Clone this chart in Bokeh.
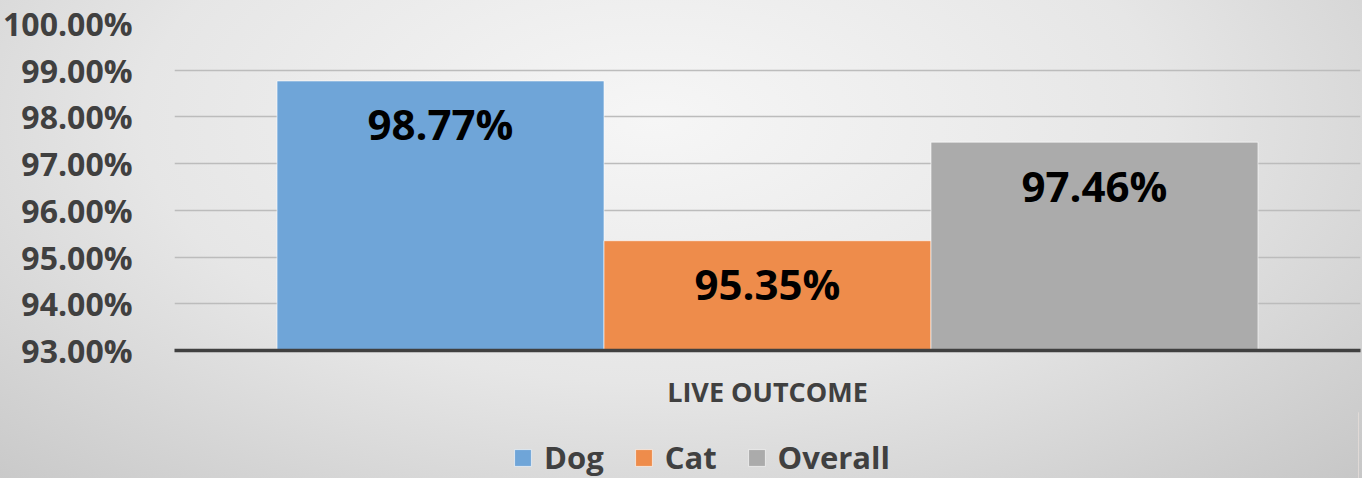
from bokeh.plotting import figure
from bokeh.layouts import column
from bokeh.models import (ColumnDataSource, FactorRange, Range1d, FixedTicker,
                          PrintfTickFormatter, Legend, LegendItem)
from bokeh.transform import dodge
from bokeh.embed import file_html
from bokeh.resources import INLINE
from bokeh.core.properties import value

# ---- data ----
group = ["LIVE OUTCOME"]
categories = ["Dog", "Cat", "Overall"]
values = [98.77, 95.35, 97.46]
bar_labels = ["98.77%", "95.35%", "97.46%"]
colors = ["#6fa5d8", "#ee8c4b", "#ababab"]
y_ticks = [93, 94, 95, 96, 97, 98, 99, 100]

FONT = "Open Sans"
TXT = "#404040"

p = figure(x_range=FactorRange(*group), y_range=Range1d(93, 100),
           frame_width=1186, frame_height=327,
           min_border_left=172, min_border_right=2, min_border_top=23,
           min_border_bottom=55,
           output_backend="svg", toolbar_location=None)
p.border_fill_color = None
p.background_fill_color = None
p.outline_line_color = None

bw = 0.2757
offsets = [-bw, 0.0, bw]
for cat, val, lab, col, off in zip(categories, values, bar_labels, colors, offsets):
    src = ColumnDataSource(dict(x=group, top=[val], label=[lab]))
    p.vbar(x=dodge("x", off, range=p.x_range), top="top", bottom=93, width=bw,
           source=src, fill_color=col, line_color="white", line_alpha=0.6, line_width=1)
    p.text(x=dodge("x", off, range=p.x_range), y="top", text="label", source=src,
           y_offset=43, text_align="center", text_baseline="middle",
           text_font=value(FONT), text_font_style="bold", text_font_size="42px",
           text_color="black")

# y axis
p.yaxis.ticker = FixedTicker(ticks=y_ticks)
p.yaxis.formatter = PrintfTickFormatter(format="%.2f%%")
p.yaxis.axis_line_color = None
p.yaxis.major_tick_line_color = None
p.yaxis.minor_tick_line_color = None
p.yaxis.major_label_standoff = 36
p.yaxis.major_label_text_font = FONT
p.yaxis.major_label_text_font_style = "bold"
p.yaxis.major_label_text_font_size = "32px"
p.yaxis.major_label_text_color = TXT

# x axis
p.xaxis.axis_line_color = "#404040"
p.xaxis.axis_line_width = 3.5
p.xaxis.major_tick_line_color = None
p.xaxis.minor_tick_line_color = None
p.xaxis.major_label_standoff = 16
p.xaxis.major_label_text_font = FONT
p.xaxis.major_label_text_font_style = "bold"
p.xaxis.major_label_text_font_size = "27px"
p.xaxis.major_label_text_color = TXT

p.xgrid.grid_line_color = None
p.ygrid.grid_line_color = "#bcbcbc"
p.ygrid.grid_line_width = 1.5

# ---- legend strip below the chart ----
lg = figure(width=1360, height=66, x_range=Range1d(0, 1), y_range=Range1d(0, 1),
            min_border=0, x_axis_location=None, y_axis_location=None,
            output_backend="svg", toolbar_location=None)
lg.border_fill_color = None
lg.background_fill_color = None
lg.outline_line_color = None
lg.grid.grid_line_color = None
items = []
for cat, val, col in zip(categories, values, colors):
    # proxy bars lie outside the strip's 0..1 ranges, so only their legend swatches show
    r = lg.vbar(x=[val], top=[val], width=0.1, fill_color=col,
                line_color="white", line_alpha=0.6)
    items.append(LegendItem(label=cat, renderers=[r]))
legend = Legend(items=items, orientation="horizontal", location=(338, 0),
                glyph_width=21, glyph_height=21, label_standoff=11, spacing=29,
                padding=0, margin=0, label_height=21, label_text_line_height=0.9,
                label_text_font=FONT, label_text_font_style="bold",
                label_text_font_size="31px", label_text_color=TXT,
                background_fill_alpha=0, border_line_color=None)
lg.add_layout(legend, "center")

layout = column(p, lg, spacing=0)
layout.styles = {"background": "radial-gradient(ellipse 75% 110% at 48% 25%, #f6f6f6 0%, #e6e6e6 50%, #c5c5c5 100%)"}

open("out.html", "w").write(file_html(layout, INLINE))
